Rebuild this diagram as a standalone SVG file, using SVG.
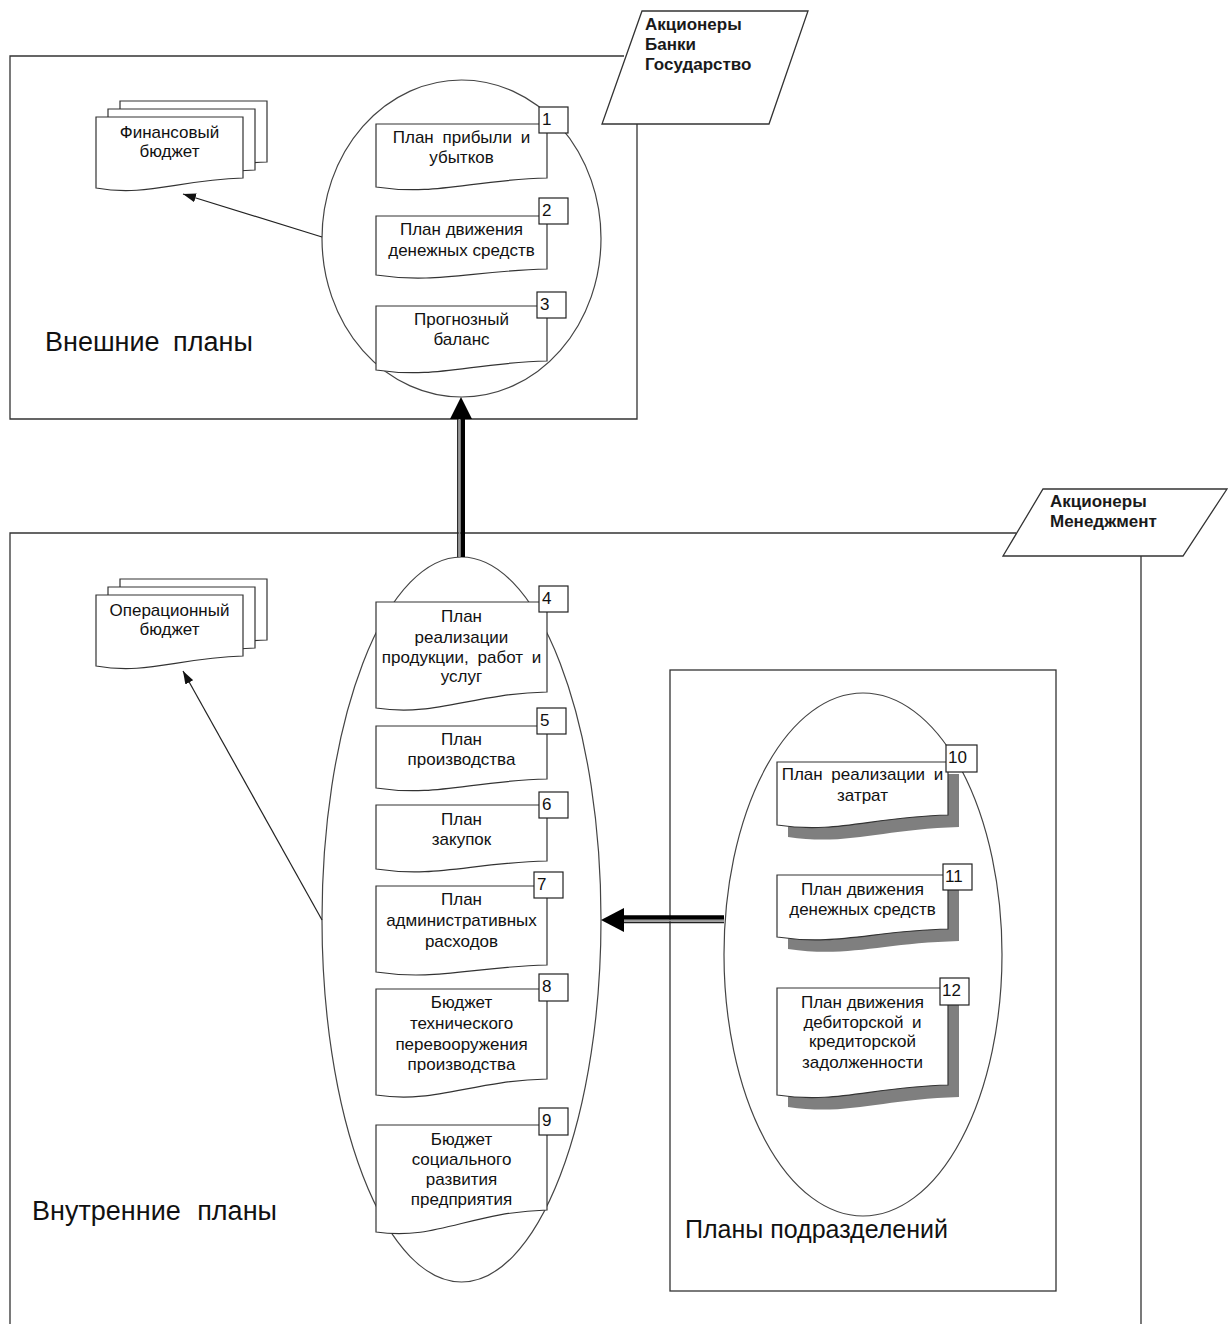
<svg xmlns="http://www.w3.org/2000/svg" width="1232" height="1324" viewBox="0 0 1232 1324">
<defs>
<style>
.frame{fill:none;stroke:#333;stroke-width:1.3}
.para{fill:#fff;stroke:#333;stroke-width:1.3}
.ell{fill:none;stroke:#444;stroke-width:1.2}
.doc{fill:#fff;stroke:#333;stroke-width:1.2}
.shadow{fill:#7f7f7f;stroke:none}
.box{fill:#fff;stroke:#222;stroke-width:1.2}
.t{font-family:"Liberation Sans",Arial,sans-serif;font-size:17px;fill:#111;text-anchor:middle}
.n{font-family:"Liberation Sans",Arial,sans-serif;font-size:17px;fill:#111}
.b{font-family:"Liberation Sans",Arial,sans-serif;font-size:17px;font-weight:bold;fill:#1a1a1a}
.big{font-family:"Liberation Sans",Arial,sans-serif;font-size:27px;fill:#111}
.thin{fill:none;stroke:#222;stroke-width:1.2}
</style>
<marker id="ah" viewBox="0 0 13 9" refX="13" refY="4.5" markerWidth="13" markerHeight="9" markerUnits="userSpaceOnUse" orient="auto">
<path d="M0,0 L13,4.5 L0,9 Z" fill="#111"/>
</marker>
</defs>

<g id="frames">
<path class="frame" d="M624,56 H10 V419 H637 V124"/>
<path class="frame" d="M1016,533 H10 V1324 M1141,556 V1324"/>
<rect class="frame" x="670" y="670" width="386" height="621"/>
</g>

<g id="stakeholders-external">
<polygon class="para" points="642,11 808,11 769,124 602,124"/>
<text class="b" x="645" y="30">Акционеры</text>
<text class="b" x="645" y="50">Банки</text>
<text class="b" x="645" y="70">Государство</text>
</g>
<g id="stakeholders-internal">
<polygon class="para" points="1043,489 1227,489 1183,556 1003,556"/>
<text class="b" x="1050" y="507">Акционеры</text>
<text class="b" x="1050" y="527">Менеджмент</text>
</g>

<g id="labels">
<text class="big" x="45" y="351" word-spacing="6">Внешние планы</text>
<text class="big" x="32" y="1220" word-spacing="9">Внутренние планы</text>
<text class="big" x="685" y="1238" style="font-size:25px">Планы подразделений</text>
</g>

<g id="ellipses">
<ellipse id="ext-plans" class="ell" cx="461.5" cy="238.5" rx="139.5" ry="158.5"/>
<ellipse id="int-plans" class="ell" cx="461.5" cy="919.5" rx="139.5" ry="362.5"/>
<ellipse id="div-plans" class="ell" cx="863" cy="954.5" rx="139" ry="261.5"/>
</g>

<g id="fin-budget">
<path class="doc" d="M120,101 H267 V162 C201,164 171,179 120,170 Z"/>
<path class="doc" d="M108,109 H255 V170 C189,172 159,187 108,178 Z"/>
<path class="doc" d="M96,117 H243 V178 C177,180 147,197 96,188 Z"/>
<text class="t" x="169.5" y="138">Финансовый</text>
<text class="t" x="169.5" y="157">бюджет</text>
</g>

<g id="op-budget">
<path class="doc" d="M120,579 H267 V640 C201,642 171,657 120,648 Z"/>
<path class="doc" d="M108,587 H255 V648 C189,650 159,665 108,656 Z"/>
<path class="doc" d="M96,595 H243 V656 C177,658 147,675 96,666 Z"/>
<text class="t" x="169.5" y="616">Операционный</text>
<text class="t" x="169.5" y="635">бюджет</text>
</g>

<g id="doc1">
<path class="doc" d="M376,124 H547 V178 C470,180 436,196 376,187 Z"/>
<rect class="box" x="539" y="107" width="29" height="26"/>
<text class="n" x="542" y="125">1</text>
<text class="t" x="461.5" y="143" word-spacing="4">План прибыли и</text>
<text class="t" x="461.5" y="163">убытков</text>
</g>
<g id="doc2">
<path class="doc" d="M376,216 H547 V269 C470,271 436,284 376,275 Z"/>
<rect class="box" x="539" y="198" width="29" height="26"/>
<text class="n" x="542" y="216">2</text>
<text class="t" x="461.5" y="235">План движения</text>
<text class="t" x="461.5" y="256">денежных средств</text>
</g>
<g id="doc3">
<path class="doc" d="M376,306 H547 V361 C470,363 436,379 376,370 Z"/>
<rect class="box" x="537" y="292" width="29" height="26"/>
<text class="n" x="540" y="310">3</text>
<text class="t" x="461.5" y="325">Прогнозный</text>
<text class="t" x="461.5" y="345">баланс</text>
</g>

<g id="doc4">
<path class="doc" d="M376,602 H547 V692 C470,694 436,717 376,708 Z"/>
<rect class="box" x="539" y="586" width="29" height="26"/>
<text class="n" x="542" y="604">4</text>
<text class="t" x="461.5" y="622">План</text>
<text class="t" x="461.5" y="643">реализации</text>
<text class="t" x="461.5" y="663" word-spacing="4">продукции, работ и</text>
<text class="t" x="461.5" y="682">услуг</text>
</g>
<g id="doc5">
<path class="doc" d="M376,726 H547 V779 C470,781 436,797 376,788 Z"/>
<rect class="box" x="537" y="708" width="29" height="26"/>
<text class="n" x="540" y="726">5</text>
<text class="t" x="461.5" y="745">План</text>
<text class="t" x="461.5" y="765">производства</text>
</g>
<g id="doc6">
<path class="doc" d="M376,805 H547 V861 C470,863 436,878 376,869 Z"/>
<rect class="box" x="539" y="792" width="29" height="26"/>
<text class="n" x="542" y="810">6</text>
<text class="t" x="461.5" y="825">План</text>
<text class="t" x="461.5" y="845">закупок</text>
</g>
<g id="doc7">
<path class="doc" d="M376,886 H547 V965 C470,967 436,981 376,972 Z"/>
<rect class="box" x="534" y="872" width="29" height="26"/>
<text class="n" x="537" y="890">7</text>
<text class="t" x="461.5" y="905">План</text>
<text class="t" x="461.5" y="926">административных</text>
<text class="t" x="461.5" y="947">расходов</text>
</g>
<g id="doc8">
<path class="doc" d="M376,989 H547 V1079 C470,1081 436,1104 376,1095 Z"/>
<rect class="box" x="539" y="974" width="29" height="27"/>
<text class="n" x="542" y="992">8</text>
<text class="t" x="461.5" y="1008">Бюджет</text>
<text class="t" x="461.5" y="1029">технического</text>
<text class="t" x="461.5" y="1050">перевооружения</text>
<text class="t" x="461.5" y="1070">производства</text>
</g>
<g id="doc9">
<path class="doc" d="M376,1125 H547 V1210 C470,1212 436,1241 376,1232 Z"/>
<rect class="box" x="539" y="1108" width="29" height="27"/>
<text class="n" x="542" y="1126">9</text>
<text class="t" x="461.5" y="1145">Бюджет</text>
<text class="t" x="461.5" y="1165">социального</text>
<text class="t" x="461.5" y="1185">развития</text>
<text class="t" x="461.5" y="1205">предприятия</text>
</g>

<g id="doc10">
<path class="shadow" d="M788,774 H959 V827 C882,829 848,846 788,837 Z"/>
<path class="doc" d="M777,762 H948 V815 C871,817 837,834 777,825 Z"/>
<rect class="box" x="946" y="745" width="31" height="27"/>
<text class="n" x="948" y="763">10</text>
<text class="t" x="862.5" y="780" word-spacing="4">План реализации и</text>
<text class="t" x="862.5" y="801">затрат</text>
</g>
<g id="doc11">
<path class="shadow" d="M788,887 H959 V941 C882,943 848,958 788,949 Z"/>
<path class="doc" d="M777,875 H948 V929 C871,931 837,946 777,937 Z"/>
<rect class="box" x="943" y="864" width="29" height="26"/>
<text class="n" x="945" y="882">11</text>
<text class="t" x="862.5" y="895">План движения</text>
<text class="t" x="862.5" y="915">денежных средств</text>
</g>
<g id="doc12">
<path class="shadow" d="M788,1000 H959 V1097 C882,1099 848,1116 788,1107 Z"/>
<path class="doc" d="M777,988 H948 V1085 C871,1087 837,1104 777,1095 Z"/>
<rect class="box" x="940" y="978" width="29" height="27"/>
<text class="n" x="942" y="996">12</text>
<text class="t" x="862.5" y="1008">План движения</text>
<text class="t" x="862.5" y="1028" word-spacing="4">дебиторской и</text>
<text class="t" x="862.5" y="1047">кредиторской</text>
<text class="t" x="862.5" y="1068">задолженности</text>
</g>

<g id="connectors">
<line class="thin" x1="322" y1="237" x2="183" y2="194" marker-end="url(#ah)"/>
<line class="thin" x1="322" y1="920" x2="183" y2="671" marker-end="url(#ah)"/>
<g id="up-arrow">
<line x1="457.8" y1="557" x2="457.8" y2="418" stroke="#222" stroke-width="1.5"/>
<line x1="459.6" y1="557" x2="459.6" y2="418" stroke="#999" stroke-width="1.8"/>
<line x1="462.8" y1="557" x2="462.8" y2="418" stroke="#000" stroke-width="4.4"/>
<polygon points="461,397 472,419 450,419" fill="#000"/>
</g>
<g id="left-arrow">
<line x1="724" y1="917.5" x2="622" y2="917.5" stroke="#000" stroke-width="4.4"/>
<line x1="724" y1="920.6" x2="622" y2="920.6" stroke="#999" stroke-width="1.8"/>
<line x1="724" y1="922.4" x2="622" y2="922.4" stroke="#222" stroke-width="1.5"/>
<polygon points="601,920 624,908 624,932" fill="#000"/>
</g>
</g>
</svg>
